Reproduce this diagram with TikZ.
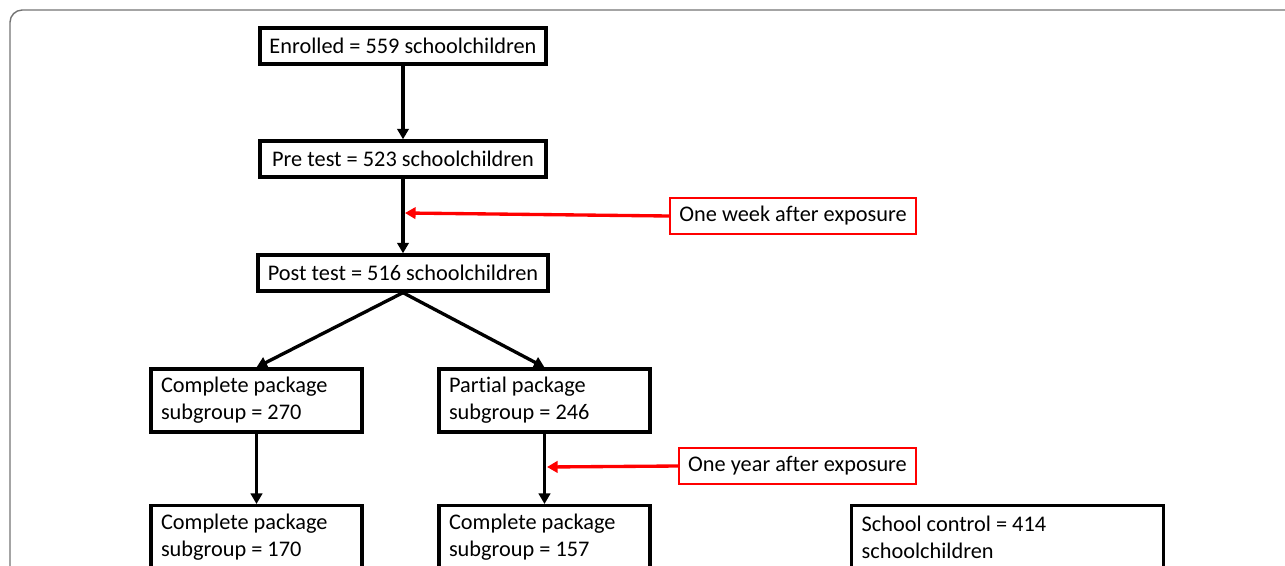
\documentclass[tikz,border=0pt]{standalone}
\usepackage{fontspec}
\setmainfont{Carlito}[Ligatures=NoCommon]
\usetikzlibrary{arrows.meta, positioning, calc}

\begin{document}
\begin{tikzpicture}[
  x=0.02cm, y=-0.02cm,
  flowbox/.style={draw, line width=1.9pt, inner sep=0pt, font=\fontsize{12.7}{15.2}\selectfont},
  onebox/.style={flowbox, minimum height=0.72cm, align=center},
  twobox/.style={flowbox, minimum width=4.22cm, minimum height=1.26cm, text width=3.82cm, align=flush left},
  notebox/.style={draw=red, line width=1.2pt, minimum height=0.72cm, inner sep=0pt, align=center, font=\fontsize{12.7}{15.2}\selectfont},
  flowarrow/.style={-{Triangle[width=6.5pt, length=6pt]}, line width=1.9pt},
  notearrow/.style={-{Triangle[width=6.5pt, length=6pt]}, line width=1.9pt, red}
]
  \useasboundingbox (0,0) rectangle (1285,565);
  \clip (0,0) rectangle (1285,565);

  % Frame
  \draw[line width=0.8pt, black!55, rounded corners=7pt] (1320,10) -- (10,10) -- (10,600);

  % Main column
  \node[onebox, minimum width=5.72cm] (enrolled) at (403,46) {Enrolled = 559 schoolchildren};
  \node[onebox, minimum width=5.72cm] (pre) at (403,159) {Pre test = 523 schoolchildren};
  \node[onebox, minimum width=5.80cm] (post) at (403,273) {Post test = 516 schoolchildren};

  % Subgroups
  \node[twobox] (complete) at (256.5,400.5) {Complete package\\subgroup = 270};
  \node[twobox] (partial) at (544.5,400.5) {Partial package\\subgroup = 246};

  % One year later
  \node[twobox, anchor=north] (complete170) at (256.5,504) {Complete package\\subgroup = 170};
  \node[twobox, anchor=north] (complete157) at (544.5,504) {Complete package\\subgroup = 157};
  \node[twobox, anchor=north west, minimum width=6.24cm, text width=5.84cm] (control) at (850,504) {School control = 414\\schoolchildren};

  % Time notes
  \node[notebox, minimum width=4.92cm] (week) at (793,216) {One week after exposure};
  \node[notebox, minimum width=4.74cm] (year) at (797.5,466) {One year after exposure};

  % Arrows
  \draw[flowarrow] (enrolled) -- (pre);
  \draw[flowarrow] (pre) -- (post);
  \draw[flowarrow] (post.south) -- (complete.north);
  \draw[flowarrow] (post.south) -- (partial.north);
  \draw[flowarrow] (complete) -- (complete170);
  \draw[flowarrow] (partial) -- (complete157);

  \coordinate (weekpt) at (405,213);
  \coordinate (yearpt) at (547,467);
  \draw[notearrow] (week.west) -- (weekpt);
  \draw[notearrow] (year.west) -- (yearpt);
\end{tikzpicture}
\end{document}
